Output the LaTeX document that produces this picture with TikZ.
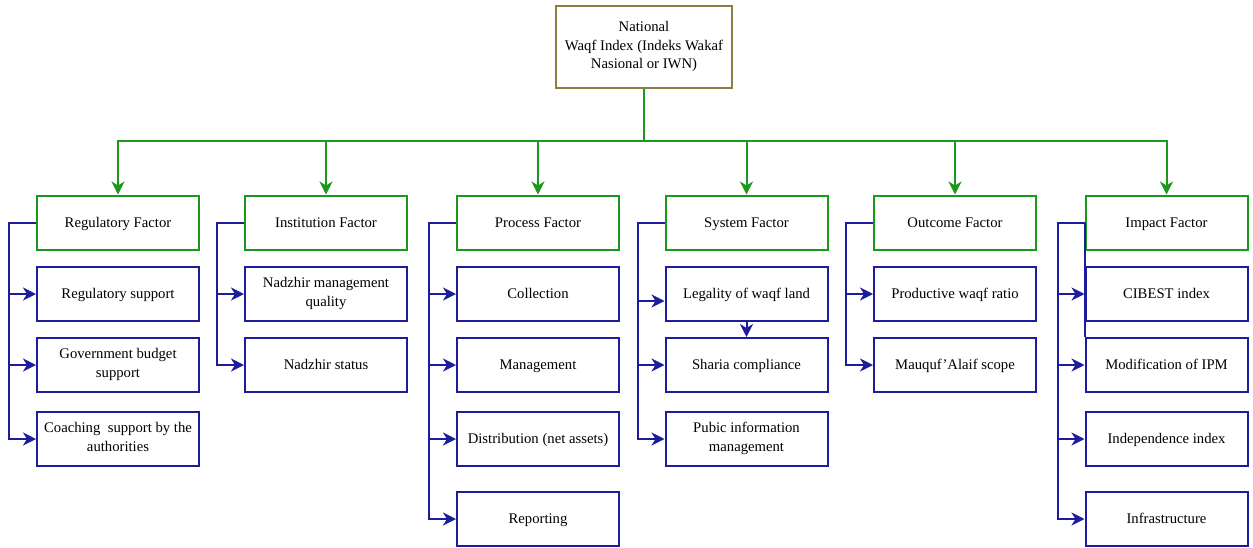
\documentclass[tikz,border=0pt]{standalone}
\usepackage{fontspec}
\setmainfont{Liberation Serif}
\usetikzlibrary{arrows.meta,calc}
\definecolor{gcol}{HTML}{1A991A}
\definecolor{bcol}{HTML}{1C1C9C}
\definecolor{ocol}{HTML}{8C7D45}
\newcommand{\boxstrut}{\rule[-4pt]{0pt}{17.5pt}}
\tikzset{
  box/.style={draw,line width=2pt,minimum width=162pt,minimum height=54pt,inner sep=0pt,align=center,font=\fontsize{14.7}{18.5}\selectfont,execute at begin node=\boxstrut,execute at end node=\boxstrut},
  hbox/.style={box,draw=gcol},
  cbox/.style={box,draw=bcol},
  topbox/.style={box,draw=ocol,minimum width=176pt,minimum height=82pt},
  gline/.style={draw=gcol,line width=2pt},
  garr/.style={gline,-{Stealth[length=13pt,width=13pt,inset=4pt]}},
  bline/.style={draw=bcol,line width=2pt},
  barr/.style={bline,-{Stealth[length=13pt,width=13pt,inset=4pt]}},
}
\begin{document}
\begin{tikzpicture}[x=1pt,y=-1pt]
\useasboundingbox (0,0) rectangle (1253,547);
\node[topbox] (top) at (644,47) {National\\Waqf Index (Indeks Wakaf\\Nasional or IWN)};
\coordinate (gbus) at (644,141);
% headers
\node[hbox] (h1) at (118,222.5) {Regulatory Factor};
\node[hbox] (h2) at (326,222.5) {Institution Factor};
\node[hbox] (h3) at (538,222.5) {Process Factor};
\node[hbox] (h4) at (746.5,222.5) {System Factor};
\node[hbox] (h5) at (955,222.5) {Outcome Factor};
\node[hbox] (h6) at (1166.5,222.5) {Impact Factor};
% children
\node[cbox] (c11) at (118,294) {Regulatory support};
\node[cbox] (c12) at (118,365) {Government budget\\support};
\node[cbox] (c13) at (118,439) {Coaching\ \ support by the\\authorities};
\node[cbox] (c21) at (326,294) {Nadzhir management\\quality};
\node[cbox] (c22) at (326,365) {Nadzhir status};
\node[cbox] (c31) at (538,294) {Collection};
\node[cbox] (c32) at (538,365) {Management};
\node[cbox] (c33) at (538,439) {Distribution (net assets)};
\node[cbox] (c34) at (538,519) {Reporting};
\node[cbox] (c41) at (746.5,294) {Legality of waqf land};
\node[cbox] (c42) at (746.5,365) {Sharia compliance};
\node[cbox] (c43) at (746.5,439) {Pubic information\\management};
\node[cbox] (c51) at (955,294) {Productive waqf ratio};
\node[cbox] (c52) at (955,365) {Mauquf'Alaif scope};
\node[cbox] (c61) at (1166.5,294) {CIBEST index};
\node[cbox] (c62) at (1166.5,365) {Modification of IPM};
\node[cbox] (c63) at (1166.5,439) {Independence index};
\node[cbox] (c64) at (1166.5,519) {Infrastructure};
% green connectors
\draw[gline] (top.south) -- (gbus);
\foreach \h in {h1,h2,h3,h4,h5,h6} \draw[garr] (gbus) -| (\h.north);
% blue connectors
\foreach \c in {c11,c12,c13} \draw[barr] (h1.west) -- ++(-27,0) |- (\c.west);
\foreach \c in {c21,c22} \draw[barr] (h2.west) -- ++(-27,0) |- (\c.west);
\foreach \c in {c31,c32,c33,c34} \draw[barr] (h3.west) -- ++(-27,0) |- (\c.west);
\draw[barr] (h4.west) -- ++(-27,0) |- ([yshift=-7pt]c41.west);
\foreach \c in {c42,c43} \draw[barr] (h4.west) -- ++(-27,0) |- (\c.west);
\draw[barr] (c41.south) -- (c42.north);
\foreach \c in {c51,c52} \draw[barr] (h5.west) -- ++(-27,0) |- (\c.west);
\foreach \c in {c61,c62,c63,c64} \draw[barr] (h6.west) -- ++(-27,0) |- (\c.west);
\draw[bline] (h6.west) -- (c62.north west);
\end{tikzpicture}
\end{document}
